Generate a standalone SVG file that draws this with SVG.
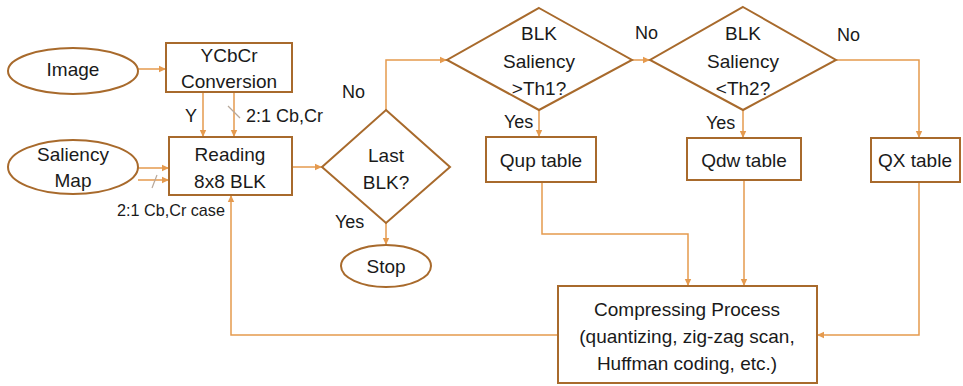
<svg xmlns="http://www.w3.org/2000/svg" width="963" height="386" viewBox="0 0 963 386">
<style>
.n{fill:#fff;stroke:#A86A2C;stroke-width:2}
.t{font-family:"Liberation Sans",Arial,sans-serif;font-size:19px;fill:#1a1a1a;text-anchor:middle;dominant-baseline:central}
.l{font-family:"Liberation Sans",Arial,sans-serif;font-size:18px;fill:#1a1a1a;dominant-baseline:central}
.c{fill:none;stroke:#E59A4E;stroke-width:1.5}
.k{stroke:#B8A89A;stroke-width:1.2}
</style>
<defs>
<marker id="a" markerWidth="8" markerHeight="8" refX="7" refY="4" orient="auto" markerUnits="userSpaceOnUse">
<path d="M0,0.8 L7,4 L0,7.2 Z" fill="#E59A4E"/>
</marker>
</defs>
<g id="connectors">
<path class="c" d="M138,69 H166" marker-end="url(#a)"/>
<path class="c" d="M203,92 V137" marker-end="url(#a)"/>
<path class="c" d="M234,92 V137" marker-end="url(#a)"/>
<line class="k" x1="228" y1="106" x2="240" y2="118"/>
<path class="c" d="M138,168 H169" marker-end="url(#a)"/>
<path class="c" d="M138,180 H169" marker-end="url(#a)"/>
<line class="k" x1="152" y1="188" x2="157" y2="175"/>
<path class="c" d="M292,167 H322" marker-end="url(#a)"/>
<path class="c" d="M386,110 V60 H447" marker-end="url(#a)"/>
<path class="c" d="M386,223 V245" marker-end="url(#a)"/>
<path class="c" d="M539,110 V137" marker-end="url(#a)"/>
<path class="c" d="M632,60 H650" marker-end="url(#a)"/>
<path class="c" d="M743,110 V138" marker-end="url(#a)"/>
<path class="c" d="M836,60 H919 V138" marker-end="url(#a)"/>
<path class="c" d="M542,182 V234 H688 V286" marker-end="url(#a)"/>
<path class="c" d="M744,180 V286" marker-end="url(#a)"/>
<path class="c" d="M919,182 V335 H817" marker-end="url(#a)"/>
<path class="c" d="M558,335 H231 V195" marker-end="url(#a)"/>
<text class="l" x="185" y="116">Y</text>
<text class="l" x="246" y="116">2:1 Cb,Cr</text>
<text class="l" x="117" y="210" style="font-size:16.2px">2:1 Cb,Cr case</text>
<text class="l" x="342" y="92">No</text>
<text class="l" x="335" y="222">Yes</text>
<text class="l" x="504" y="122">Yes</text>
<text class="l" x="635" y="33">No</text>
<text class="l" x="706" y="123">Yes</text>
<text class="l" x="837" y="35">No</text>
</g>
<g id="image"><ellipse class="n" cx="73" cy="71" rx="65" ry="23"/><text class="t" x="73" y="69">Image</text></g>
<g id="ycbcr"><rect class="n" x="166" y="43" width="126" height="49"/><text class="t" x="229" y="55">YCbCr</text><text class="t" x="229" y="81">Conversion</text></g>
<g id="saliency"><ellipse class="n" cx="73" cy="167" rx="65" ry="27"/><text class="t" x="73" y="154">Saliency</text><text class="t" x="73" y="180">Map</text></g>
<g id="reading"><rect class="n" x="169" y="137" width="123" height="58"/><text class="t" x="230" y="154">Reading</text><text class="t" x="230" y="181">8x8 BLK</text></g>
<g id="last"><polygon class="n" points="386,110 450,167 386,223 322,167"/><text class="t" x="386" y="155">Last</text><text class="t" x="386" y="182">BLK?</text></g>
<g id="stop"><ellipse class="n" cx="386" cy="266" rx="45" ry="21"/><text class="t" x="386" y="266">Stop</text></g>
<g id="th1"><polygon class="n" points="539,8 632,60 539,110 447,60"/><text class="t" x="539" y="33">BLK</text><text class="t" x="539" y="61">Saliency</text><text class="t" x="539" y="88">&gt;Th1?</text></g>
<g id="th2"><polygon class="n" points="743,7 836,60 743,110 650,60"/><text class="t" x="743" y="33">BLK</text><text class="t" x="743" y="61">Saliency</text><text class="t" x="743" y="88">&lt;Th2?</text></g>
<g id="qup"><rect class="n" x="486" y="137" width="110" height="45"/><text class="t" x="541" y="160">Qup table</text></g>
<g id="qdw"><rect class="n" x="687" y="138" width="114" height="42"/><text class="t" x="744" y="160">Qdw table</text></g>
<g id="qx"><rect class="n" x="871" y="138" width="89" height="44"/><text class="t" x="915" y="160">QX table</text></g>
<g id="compress"><rect class="n" x="558" y="286" width="259" height="97"/><text class="t" x="687" y="309">Compressing Process</text><text class="t" x="687" y="336">(quantizing, zig-zag scan,</text><text class="t" x="687" y="363">Huffman coding, etc.)</text></g>
</svg>
